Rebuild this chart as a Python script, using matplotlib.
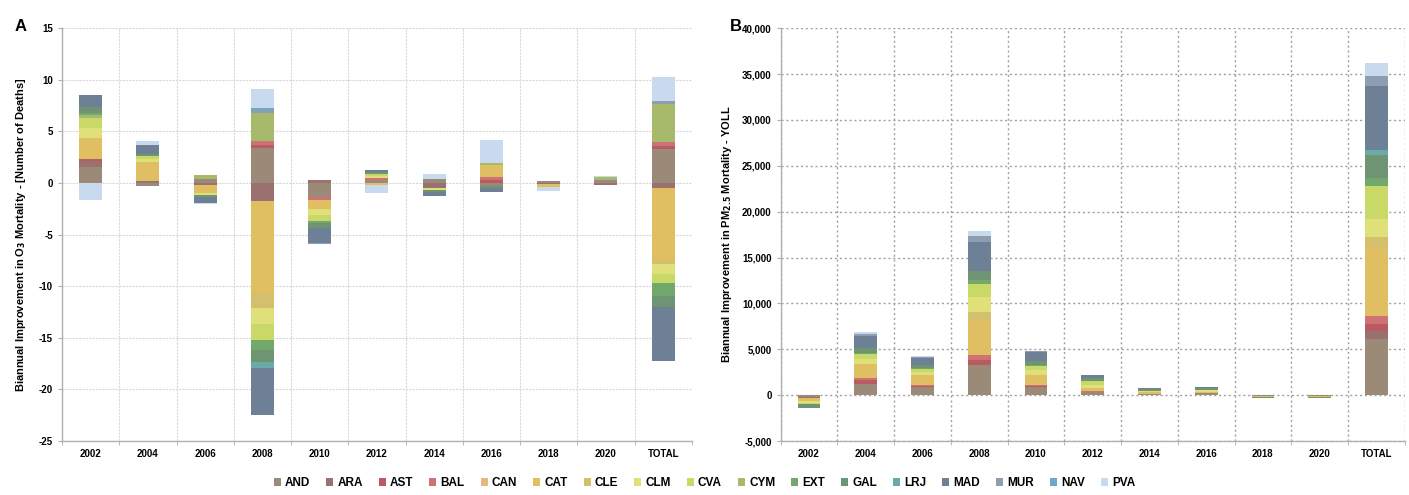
import matplotlib
matplotlib.use("Agg")
import matplotlib.pyplot as plt
import numpy as np

plt.rcParams['font.family'] = ['Liberation Sans', 'DejaVu Sans']
plt.rcParams['mathtext.default'] = 'bf'
plt.rcParams['axes.unicode_minus'] = False

categories = ["2002", "2004", "2006", "2008", "2010", "2012", "2014", "2016", "2018", "2020", "TOTAL"]
regions = ["AND", "ARA", "AST", "BAL", "CAN", "CAT", "CLE", "CLM", "CVA", "CYM",
           "EXT", "GAL", "LRJ", "MAD", "MUR", "NAV", "PVA"]
colors = ["#9c8a78", "#9b7070", "#b85c62", "#cf7276", "#e4bb7e", "#e0bf62", "#d4c06c",
          "#dfe07a", "#c8d968", "#a7b96a", "#72a86c", "#6f9474", "#6aaaa8", "#6e8096",
          "#8e9db0", "#6aaac8", "#c7daee"]
yticksA = [-25, -20, -15, -10, -5, 0, 5, 10, 15]
yticksB = [-5000, 0, 5000, 10000, 15000, 20000, 25000, 30000, 35000, 40000]

# Panel A: O3 mortality (number of deaths), per region, per category
o3_AND = [1.6, -0.3, 0.4, 3.4, -1.4, 0.25, 0.35, -0.3, 0.2, 0.25, 3.3]
o3_ARA = [0.5, 0.2, -0.2, -1.75, 0.3, 0.0, -0.5, 0.0, -0.1, -0.2, -0.5]
o3_AST = [0.2, 0.0, 0.0, 0.3, 0.0, 0.0, 0.0, 0.25, 0.0, 0.0, 0.3]
o3_BAL = [0.0, 0.0, 0.0, 0.4, -0.2, 0.2, 0.0, 0.3, 0.0, 0.0, 0.4]
o3_CAN = [0.0, 0.0, 0.0, 0.0, 0.0, 0.0, 0.0, 0.0, 0.0, 0.0, 0.0]
o3_CAT = [2.1, 1.8, -0.8, -8.9, -0.9, -0.2, 0.0, 1.15, -0.3, 0.0, -7.0]
o3_CLE = [0.0, 0.0, 0.0, -1.45, 0.0, 0.0, 0.0, 0.0, 0.0, 0.0, -0.3]
o3_CLM = [0.9, 0.3, -0.2, -1.6, -0.6, 0.2, -0.2, 0.0, 0.0, 0.0, -1.0]
o3_CVA = [1.0, 0.3, 0.0, -1.5, -0.6, 0.2, 0.0, 0.0, 0.0, 0.0, -0.9]
o3_CYM = [0.3, 0.0, 0.4, 2.7, 0.0, 0.0, 0.0, 0.2, 0.0, 0.3, 3.7]
o3_EXT = [0.2, 0.0, 0.0, -1.0, -0.2, 0.0, 0.0, 0.0, 0.0, 0.0, -1.2]
o3_GAL = [0.6, 0.2, -0.2, -1.1, -0.45, 0.2, -0.2, -0.2, 0.0, 0.0, -1.1]
o3_LRJ = [0.0, 0.0, 0.0, -0.65, 0.0, 0.0, 0.0, 0.0, 0.0, 0.0, 0.0]
o3_MAD = [1.1, 0.9, -0.5, -4.5, -1.45, 0.2, -0.4, -0.35, 0.0, 0.0, -5.2]
o3_MUR = [0.0, 0.0, 0.0, 0.3, -0.15, 0.0, 0.0, 0.0, 0.0, 0.0, 0.2]
o3_NAV = [0.0, 0.0, 0.0, 0.2, 0.0, 0.0, 0.0, 0.0, 0.0, 0.0, 0.0]
o3_PVA = [-1.6, 0.4, -0.1, 1.8, 0.0, -0.8, 0.55, 2.3, -0.35, 0.15, 2.4]

# Panel B: PM2.5 mortality (YOLL), per region, per category
pm_AND = [-150, 1250, 900, 3300, 900, 300, 150, 200, -50, -50, 6100]
pm_ARA = [-150, 0, 0, 0, 0, 0, 0, 0, 0, 0, 900]
pm_AST = [0, 350, 150, 500, 150, 0, 0, 0, 0, 0, 800]
pm_BAL = [0, 250, 100, 600, 100, 150, 0, 50, 0, 0, 850]
pm_CAN = [0, 0, 0, 0, 0, 0, 0, 0, 0, 0, 0]
pm_CAT = [-350, 1500, 1000, 3700, 1100, 350, 150, 150, -100, -100, 7500]
pm_CLE = [0, 0, 0, 1000, 0, 0, 0, 0, 0, 0, 1100]
pm_CLM = [-150, 550, 400, 1600, 450, 350, 150, 200, -50, -50, 2000]
pm_CVA = [-150, 550, 350, 1400, 450, 350, 0, 0, 0, 0, 3500]
pm_CYM = [0, 0, 0, 0, 0, 0, 0, 0, 0, 0, 0]
pm_EXT = [0, 200, 100, 500, 150, 0, 0, 0, 0, 0, 900]
pm_GAL = [-500, 450, 300, 950, 400, 350, 200, 150, -100, -100, 2550]
pm_LRJ = [0, 0, 0, 0, 0, 0, 0, 0, 0, 0, 550]
pm_MAD = [0, 1400, 750, 3100, 1000, 350, 100, 150, 0, 0, 6900]
pm_MUR = [0, 200, 100, 700, 100, 0, 0, 0, 0, 0, 1100]
pm_NAV = [0, 0, 0, 0, 0, 0, 0, 0, 0, 0, 0]
pm_PVA = [0, 200, 100, 600, 50, 0, 0, 0, 0, 0, 1500]

o3_series = [o3_AND, o3_ARA, o3_AST, o3_BAL, o3_CAN, o3_CAT, o3_CLE, o3_CLM, o3_CVA,
             o3_CYM, o3_EXT, o3_GAL, o3_LRJ, o3_MAD, o3_MUR, o3_NAV, o3_PVA]
pm_series = [pm_AND, pm_ARA, pm_AST, pm_BAL, pm_CAN, pm_CAT, pm_CLE, pm_CLM, pm_CVA,
             pm_CYM, pm_EXT, pm_GAL, pm_LRJ, pm_MAD, pm_MUR, pm_NAV, pm_PVA]

fig = plt.figure(figsize=(14.09, 4.95), dpi=100)
axA = fig.add_axes([0.044, 0.109, 0.447, 0.834])
axB = fig.add_axes([0.554, 0.109, 0.443, 0.834])

x = np.arange(len(categories))
width = 0.4


def stacked(ax, series):
    pos = np.zeros(len(categories))
    neg = np.zeros(len(categories))
    handles = []
    for name, vals, col in zip(regions, series, colors):
        v = np.asarray(vals, dtype=float)
        bottom = np.where(v >= 0, pos, neg)
        h = ax.bar(x, v, width, bottom=bottom, color=col, label=name, linewidth=0, zorder=3)
        handles.append(h)
        pos = pos + np.where(v >= 0, v, 0)
        neg = neg + np.where(v < 0, v, 0)
    return handles


handles = stacked(axA, o3_series)
stacked(axB, pm_series)

for ax in (axA, axB):
    ax.set_xlim(-0.5, len(categories) - 0.5)
    ax.set_xticks(x)
    ax.set_xticklabels(categories, fontsize=7, fontweight='bold')
    ax.set_xticks(np.arange(-0.5, len(categories), 1.0), minor=True)
    ax.tick_params(axis='x', which='major', length=0, pad=6)
    ax.tick_params(axis='x', which='minor', length=3, color='#b0b0b0')
    ax.tick_params(axis='y', length=3, color='#b0b0b0')
    for s in ('top', 'right'):
        ax.spines[s].set_visible(False)
    for s in ('left', 'bottom'):
        ax.spines[s].set_color('#b0b0b0')
        ax.spines[s].set_linewidth(1.0)

axA.set_ylim(-25, 15)
axA.set_yticks(yticksA)
axA.set_yticklabels([f"{v}" for v in yticksA], fontsize=7, fontweight='bold')
axA.grid(True, which='major', axis='y', color='#d8d8d8', linestyle=(0, (2, 1)), linewidth=0.8, zorder=0)
axA.grid(True, which='minor', axis='x', color='#d8d8d8', linestyle=(0, (2, 1)), linewidth=0.8, zorder=0)
axA.set_ylabel('Biannual Improvement in O$_{3}$ Mortality - [Number of Deaths]',
               fontsize=8, fontweight='bold', labelpad=8)

axB.set_ylim(-5000, 40000)
axB.set_yticks(yticksB)
axB.set_yticklabels([f"{v:,}" for v in yticksB], fontsize=7, fontweight='bold')
axB.grid(True, which='major', axis='y', color='#a0a0a0', linestyle=(0, (1.5, 2)), linewidth=1.0, zorder=0)
axB.grid(True, which='minor', axis='x', color='#a0a0a0', linestyle=(0, (1.5, 2)), linewidth=1.0, zorder=0)
axB.set_ylabel('Biannual Improvement in PM$_{2.5}$ Mortality - YOLL',
               fontsize=8, fontweight='bold', labelpad=6)

fig.text(0.010, 0.947, 'A', fontsize=12, fontweight='bold', va='center')
fig.text(0.518, 0.947, 'B', fontsize=12, fontweight='bold', va='center')

fig.legend(handles=handles, labels=regions, loc='lower center', ncol=len(regions),
           bbox_to_anchor=(0.5, -0.01), frameon=False,
           handlelength=0.6, handleheight=0.6, handletextpad=0.35, columnspacing=1.35,
           prop={'weight': 'bold', 'size': 8.5})

fig.savefig('out.png', dpi=100)
